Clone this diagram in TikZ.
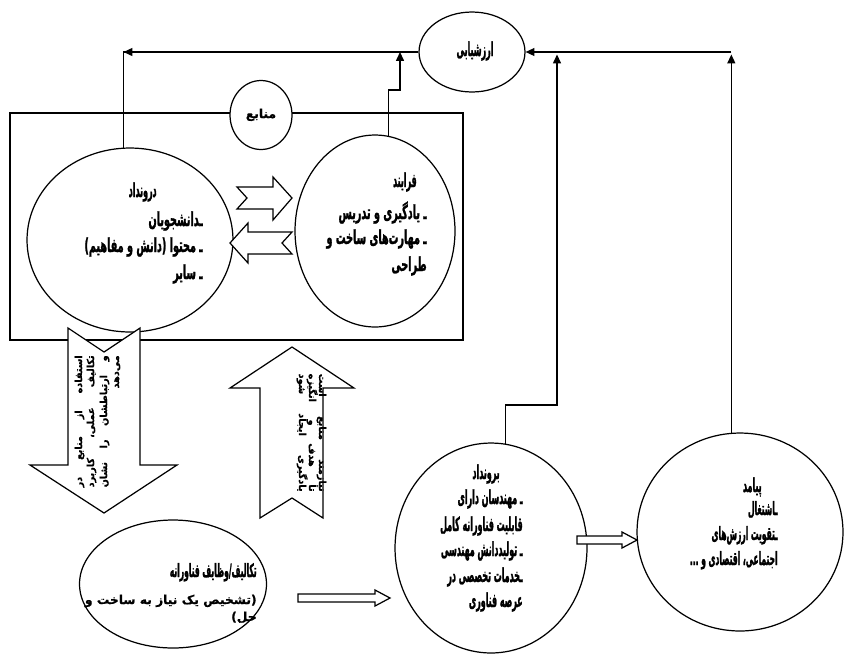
\documentclass[tikz,border=0pt]{standalone}
\usepackage{fontspec}
\usepackage{tikz}
\usetikzlibrary{shapes.geometric,arrows.meta}
\newfontfamily\faw[Script=Arabic,FakeBold=0.8]{DejaVu Sans}
\newfontfamily\fa[Script=Arabic,FakeStretch=0.5,FakeBold=1.2]{DejaVu Sans}
\newfontfamily\fat[Script=Arabic,FakeStretch=0.41,FakeBold=1.2]{DejaVu Sans}
\TeXXeTstate=1

\tikzset{
  blob/.style={draw, ellipse, line width=0.7pt, fill=white, inner sep=0pt},
  hollow/.style={draw, line width=0.7pt, fill=white, line join=miter},
  link/.style={line width=0.7pt},
  flow/.style={line width=0.7pt, -{Triangle[length=5pt,width=4.5pt]}},
  txt/.style={inner sep=0pt, anchor=base east, font=\fa\bfseries\fontsize{11}{13}\selectfont},
  head/.style={txt, font=\fat\bfseries\fontsize{11}{13}\selectfont},
  sidetxt/.style={inner sep=0pt, anchor=base east, font=\faw\bfseries\fontsize{5.5}{6}\selectfont},
}

\begin{document}
\begin{tikzpicture}[x=0.02cm, y=-0.02cm]
    \useasboundingbox (0,0) rectangle (844,660);

    \draw[link] (10,113) rectangle (463,340);

    \node[blob, minimum width=1.24cm, minimum height=1.38cm] (res) at (261,115) {};
    \node[blob, minimum width=4.12cm, minimum height=3.68cm] (input) at (130,240) {};
    \node[blob, minimum width=3.2cm, minimum height=3.84cm] (process) at (375,231) {};
    \node[blob, minimum width=2.12cm, minimum height=1.6cm] (eval) at (472,52) {};
    \node[blob, minimum width=3.74cm, minimum height=2.56cm] (tasks) at (173,584) {};
    \node[blob, minimum width=3.84cm, minimum height=4.2cm] (output) at (491,548) {};
    \node[blob, minimum width=4.12cm, minimum height=3.96cm] (outcome) at (740,532) {};

    \coordinate (pj) at (400,90);
    \coordinate (oj) at (557,405);
    \coordinate (tr) at (outcome.95 |- eval.east);

    \draw[link] (input.94) -- (input.94 |- eval.west) -- (eval.west);
    \draw[flow] (eval.west) -- (input.94 |- eval.west);
    \draw[flow] (process.82) |- (pj) -- (pj |- eval.west);
    \draw[flow] (output.82) |- (oj) -- ([yshift=-0.05cm]oj |- eval.east);
    \draw[flow] (outcome.95) -- ([yshift=-0.05cm]tr);
    \draw[flow] (tr) -- (eval.east);

    \draw[hollow] (237,187) -- (273,187) -- (273,177) -- (292,198) -- (273,220) -- (273,209) -- (237,209) -- (247,198) -- cycle;
    \draw[hollow] (292,232) -- (248,232) -- (248,223) -- (230,243) -- (248,263) -- (248,254) -- (292,254) -- (282,243) -- cycle;
    \draw[hollow] (68,328) -- (104,352) -- (140,328) -- (140,465) -- (177,465) -- (104,513) -- (30,465) -- (68,465) -- cycle;
    \draw[hollow] (292,347) -- (354,388) -- (323,388) -- (323,518) -- (292,498) -- (260,518) -- (260,388) -- (230,388) -- cycle;
    \draw[hollow] (298,594) -- (375,594) -- (375,590) -- (390,598) -- (375,606) -- (375,602) -- (298,602) -- cycle;
    \draw[hollow] (577,536) -- (622,536) -- (622,532) -- (637,540) -- (622,548) -- (622,544) -- (577,544) -- cycle;

    \node[txt, anchor=base, font=\faw\bfseries\fontsize{7}{8}\selectfont] (restx) at (261,118) {\beginR منابع\endR};
    \node[head, anchor=base] (evaltx) at (475,56) {\beginR ارزشیابی\endR};

    \node[head] (in0) at (157,197) {\beginR درونداد\endR};
    \node[txt] (in1) at (203,226) {\beginR ـدانشجویان\endR};
    \node[txt] (in2) at (203,252) {\beginR ـ محتوا (دانش و مفاهیم)\endR};
    \node[txt] (in3) at (203,279) {\beginR ـ سایر\endR};

    \node[head] (pr0) at (417,187) {\beginR فرایند\endR};
    \node[txt] (pr1) at (427,219) {\beginR ـ یادگیری و تدریس\endR};
    \node[txt] (pr2) at (427,244) {\beginR ـ مهارت‌های ساخت و\endR};
    \node[txt] (pr3) at (427,271) {\beginR طراحی\endR};

    \node[head, font=\fat\bfseries\fontsize{10.5}{12}\selectfont] (ta0) at (257,577) {\beginR تکالیف/وظایف فناورانه\endR};
    \node[txt, font=\faw\bfseries\fontsize{7}{9}\selectfont] (ta1) at (257,604) {\beginR (تشخیص یک نیاز به ساخت و\endR};
    \node[txt, font=\faw\bfseries\fontsize{7}{9}\selectfont] (ta2) at (257,621) {\beginR حل)\endR};

    \node[head] (ou0) at (500,479) {\beginR برونداد\endR};
    \node[head] (ou1) at (523,504) {\beginR ـ مهندسان دارای\endR};
    \node[head] (ou2) at (523,531) {\beginR قابلیت فناورانه کامل\endR};
    \node[head] (ou3) at (523,556) {\beginR ـ تولیددانش مهندسی\endR};
    \node[head] (ou4) at (523,582) {\beginR ـخدمات تخصصی در\endR};
    \node[head] (ou5) at (523,607) {\beginR عرصه فناوری\endR};

    \node[head] (oc0) at (762,492) {\beginR پیامد\endR};
    \node[head, font=\fat\bfseries\fontsize{10.5}{12}\selectfont] (oc1) at (778,515) {\beginR ـاشتغال\endR};
    \node[head, font=\fat\bfseries\fontsize{10.5}{12}\selectfont] (oc2) at (778,540) {\beginR ـتقویت ارزش‌های\endR};
    \node[head, font=\fat\bfseries\fontsize{10.5}{12}\selectfont] (oc3) at (778,565) {\beginR اجتماعی، اقتصادی و ...\endR};

    \node[sidetxt, rotate=90] (dn1) at (82,355) {\makebox[2.64cm][s]{\beginR استفاده از منابع در\endR}};
    \node[sidetxt, rotate=90] (dn2) at (94,355) {\makebox[2.64cm][s]{\beginR تکالیف عملی، کاربرد\endR}};
    \node[sidetxt, rotate=90] (dn3) at (107,355) {\makebox[2.64cm][s]{\beginR و ارتباطشان را نشان\endR}};
    \node[sidetxt, rotate=90] (dn4) at (119,355) {\beginR می‌دهد\endR};

    \node[sidetxt, rotate=-90] (up1) at (319,492) {\makebox[2.36cm][s]{\beginR نیازمند منابع است\endR}};
    \node[sidetxt, rotate=-90] (up2) at (309,492) {\makebox[2.36cm][s]{\beginR تا هدف و انگیزه\endR}};
    \node[sidetxt, rotate=-90] (up3) at (299,492) {\makebox[2.36cm][s]{\beginR یادگیری ایجاد شود\endR}};

\end{tikzpicture}
\end{document}
